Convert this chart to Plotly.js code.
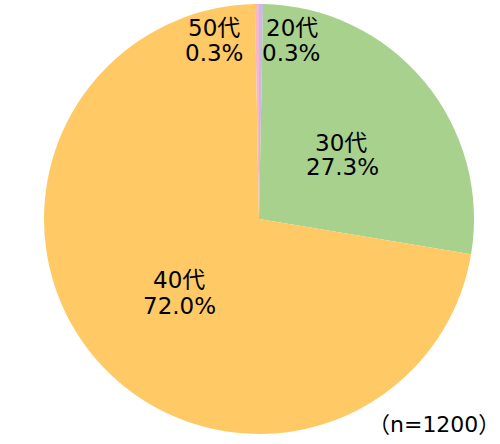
<!DOCTYPE html>
<html>
<head>
<meta charset="utf-8">
<script src="https://cdn.plot.ly/plotly-3.0.1.min.js"></script>
<style>html,body{margin:0;padding:0;background:#fff;}#chart{width:500px;height:444px;}</style>
</head>
<body>
<div id="chart"></div>
<script>
const categories = ["20代", "30代", "40代", "50代"];
const values = [0.3, 27.3, 72.0, 0.3];
const valueLabels = ["0.3%", "27.3%", "72.0%", "0.3%"];
const colors = ["#C9B8E8", "#A9D18E", "#FFCA66", "#F4B8C8"];
const note = "（n=1200）";

// label centre positions in pixels [name line, value line]
const labelPos = [
  [[292, 28], [291, 53]],
  [[341, 143], [342, 167]],
  [[179, 280], [179, 306]],
  [[214, 28], [214, 53]]
];

const W = 500, H = 444;
const font = {family: "DejaVu Sans, Noto Sans CJK JP, sans-serif", size: 23, color: "#000"};
const annotations = [];
categories.forEach((c, i) => {
  const lines = [c, valueLabels[i]];
  lines.forEach((t, j) => {
    annotations.push({
      text: t, showarrow: false, xref: "paper", yref: "paper",
      x: labelPos[i][j][0] / W, y: 1 - labelPos[i][j][1] / H,
      xanchor: "center", yanchor: "middle", font: font
    });
  });
});
annotations.push({
  text: note, showarrow: false, xref: "paper", yref: "paper",
  x: 434 / W, y: 1 - 424 / H, xanchor: "center", yanchor: "middle",
  font: {family: "DejaVu Sans, Noto Sans CJK JP, sans-serif", size: 22, color: "#000"}
});

const trace = {
  type: "pie",
  labels: categories,
  values: values,
  marker: {colors: colors, line: {width: 0}},
  sort: false,
  direction: "clockwise",
  rotation: 0,
  textinfo: "none",
  hoverinfo: "label+percent",
  domain: {x: [44 / W, 474 / W], y: [1 - 435 / H, 1 - 3 / H]}
};

Plotly.newPlot("chart", [trace], {
  width: W, height: H,
  margin: {l: 0, r: 0, t: 0, b: 0},
  paper_bgcolor: "#ffffff",
  showlegend: false,
  annotations: annotations
}, {displayModeBar: false, staticPlot: true});
</script>
</body>
</html>
